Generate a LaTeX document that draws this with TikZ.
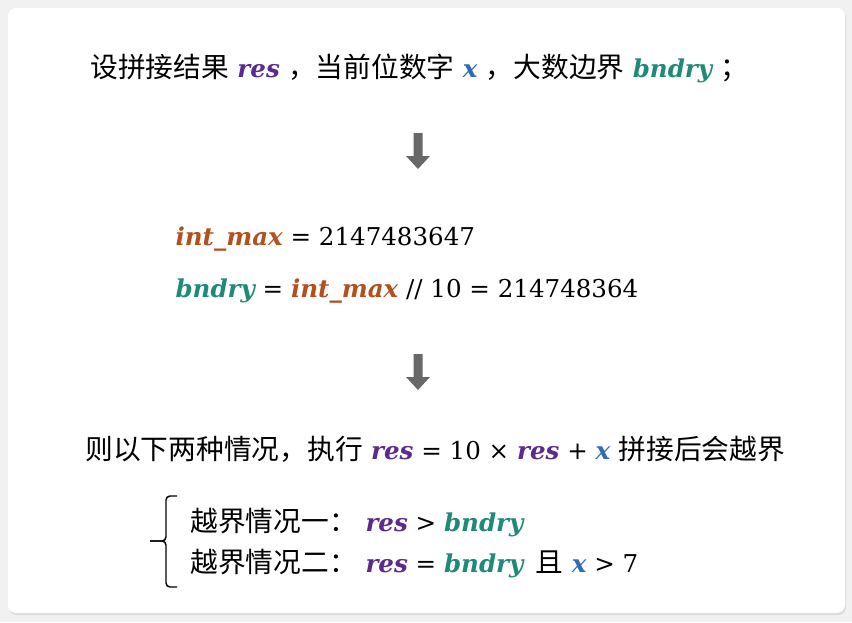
\documentclass[tikz,border=0pt]{standalone}
\usepackage{fontspec}
\setmainfont{Noto Sans CJK SC}
\newfontfamily\mfont{DejaVu Serif}[Scale=0.885]

\definecolor{cres}{HTML}{5B2A8E}
\definecolor{cx}{HTML}{2E6DB4}
\definecolor{cbnd}{HTML}{1F8A78}
\definecolor{cmax}{HTML}{B4501E}
\definecolor{arrowgray}{HTML}{686868}
\definecolor{pagegray}{HTML}{F1F1F1}

\newcommand{\vr}[2]{\textcolor{#1}{\mfont\bfseries\itshape #2}}
\newcommand{\op}[1]{{\mfont #1}}
\newcommand{\gap}{\hspace{0.3em}}

\tikzset{every picture/.style={line width=0.75pt}}
\tikzset{txt/.style={anchor=base west,inner sep=0pt,font=\fontsize{20.8}{24}\selectfont}}

\begin{document}
\begin{tikzpicture}[x=0.75pt,y=0.75pt,yscale=-1,xscale=1]
\useasboundingbox (0,0) rectangle (852,622);

%Shape: Background
\fill[pagegray] (0,0) rectangle (852,622);
%Shape: Card shadow
\fill[black!14, rounded corners=6pt] (9,10) rectangle (846,615);
%Shape: Card
\fill[white, rounded corners=6pt] (8,8) rectangle (845,613);

%Shape: Block arrow
\fill[arrowgray] (413.5,133) -- (422.5,133) -- (422.5,156) -- (430,156) -- (418,169) -- (406,156) -- (413.5,156) -- cycle ;
%Shape: Block arrow
\fill[arrowgray] (413.5,354) -- (422.5,354) -- (422.5,377) -- (430,377) -- (418,390) -- (406,377) -- (413.5,377) -- cycle ;

%Shape: Brace
\draw[line width=1.1pt, rounded corners=3pt] (177,496) -- (166,496) -- (166,541) -- (150,541) ;
\draw[line width=1.1pt, rounded corners=3pt] (150,541) -- (166,541) -- (166,587) -- (177,587) ;

% Text Node
\node[txt] (t_intro) at (90,77) {设拼接结果\gap\vr{cres}{res}\gap，当前位数字\gap\vr{cx}{x}\gap，大数边界\gap\vr{cbnd}{bndry}\gap；};
% Text Node
\node[txt] (t_max) at (175,245) {\vr{cmax}{int\_max}\op{ = 2147483647}};
% Text Node
\node[txt] (t_bnd) at (175,297) {\vr{cbnd}{bndry}\op{ = }\vr{cmax}{int\_max}\op{ // 10 = 214748364}};
% Text Node
\node[txt] (t_cond) at (85,459) {则以下两种情况，执行\gap\vr{cres}{res}\op{ = 10 × }\vr{cres}{res}\op{ + }\vr{cx}{x}\gap 拼接后会越界};
% Text Node
\node[txt] (l_case1) at (190,531) {越界情况一：};
% Text Node
\node[txt] (e_case1) at (365,531) {\vr{cres}{res}\op{ > }\vr{cbnd}{bndry}};
% Text Node
\node[txt] (l_case2) at (190,572) {越界情况二：};
% Text Node
\node[txt] (e_case2) at (365,572) {\vr{cres}{res}\op{ = }\vr{cbnd}{bndry}\hspace{0.45em}且\gap\vr{cx}{x}\op{ > 7}};

\end{tikzpicture}
\end{document}
